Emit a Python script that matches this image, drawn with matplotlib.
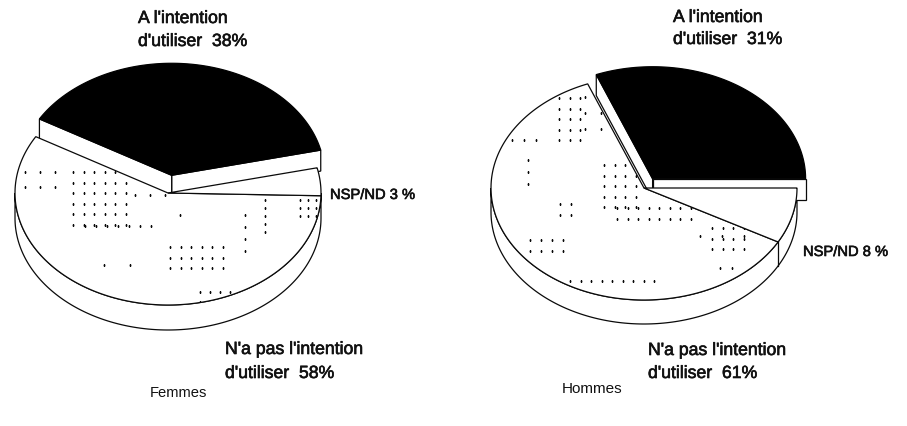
import numpy as np
import matplotlib
matplotlib.use("Agg")
import matplotlib.pyplot as plt
from matplotlib.patches import Polygon
import matplotlib.patheffects as pe

plt.rcParams['font.family'] = ['Liberation Sans', 'DejaVu Sans']

# ---- data
slice_names = ["A l'intention d'utiliser", "N'a pas l'intention d'utiliser", "NSP/ND"]
femmes_values = [38, 58, 3]
hommes_values = [31, 61, 8]
panel_titles = ["Femmes", "Hommes"]

INK = '#0a0a0a'
LW = 0.9

fig = plt.figure(figsize=(9.07, 4.26), dpi=100)
ax = fig.add_axes([0, 0, 1, 1])
ax.set_xlim(0, 907)
ax.set_ylim(426, 0)
ax.axis('off')


def arc(cx, cy, a, b, t0, t1, n=160):
    t = np.radians(np.linspace(t0, t1, n))
    return np.column_stack([cx + a * np.cos(t), cy - b * np.sin(t)])


def stipple(poly, regions):
    xs, ys = [], []
    for x0, x1, y0, y1, step in regions:
        gx, gy = np.meshgrid(np.arange(x0, x1 + .1, step), np.arange(y0, y1 + .1, step))
        xs.extend(gx.ravel())
        ys.extend(gy.ravel())
    line, = ax.plot(xs, ys, ls='none', marker='s', ms=1.3, mew=0, color=INK, zorder=3.5)
    line.set_clip_path(poly)


def pie3d(cx, cy, a, b, depth, values, start, explode, wall, regions):
    total_deg = 3.6
    ang = [start]
    for v in values:
        ang.append(ang[-1] + v * total_deg)
    black0, black1, dot1, _ = ang
    nsp1 = black0 + 360  # the last slice closes the circle (printed shares are rounded)
    # base rim
    rim = np.vstack([arc(cx, cy, a, b, 180, 360), arc(cx, cy + depth, a, b, 360, 180)])
    ax.add_patch(Polygon(rim, closed=True, fc='white', ec=INK, lw=LW, zorder=1))
    bx = cx + a * np.cos(np.radians(dot1))
    by = cy - b * np.sin(np.radians(dot1))
    if np.sin(np.radians(dot1)) < -0.05:
        ax.plot([bx, bx], [by, by + depth], color=INK, lw=LW, zorder=1.5)
    # exploded black slice: offset along mid angle
    mid = np.radians((black0 + black1) / 2)
    ex = cx + explode * a * np.cos(mid)
    ey = cy - explode * b * np.sin(mid)
    top = np.vstack([[ex, ey], arc(ex, ey, a, b, black0, black1)])
    for t in (black0, black1):
        px = ex + a * np.cos(np.radians(t))
        py = ey - b * np.sin(np.radians(t))
        ax.add_patch(Polygon([[ex, ey], [px, py], [px, py + wall], [ex, ey + wall]],
                             closed=True, fc='white', ec=INK, lw=LW, zorder=2))
    # flat slices
    dots = Polygon(np.vstack([[cx, cy], arc(cx, cy, a, b, black1, dot1)]), closed=True,
                   fc='white', ec=INK, lw=LW, zorder=3)
    ax.add_patch(dots)
    nsp = Polygon(np.vstack([[cx, cy], arc(cx, cy, a, b, dot1, nsp1)]), closed=True,
                  fc='white', ec=INK, lw=LW, zorder=3)
    ax.add_patch(nsp)
    ax.add_patch(Polygon(top, closed=True, fc='black', ec='black', lw=LW, zorder=4))
    stipple(dots, regions)


pie3d(168, 193, 153, 112, 25, femmes_values, 13, 0.16, 21,
      [(73, 134, 172, 226, 10.5), (170, 224, 247, 278, 10.5), (25, 60, 172, 200, 15),
       (85, 160, 226, 236, 11), (200, 250, 292, 302, 10), (265, 268, 200, 235, 8),
       (300, 318, 200, 222, 8), (245, 256, 215, 255, 12), (104, 132, 265, 278, 26),
       (135, 165, 195, 205, 15), (180, 186, 215, 218, 9)])
pie3d(644, 188, 153, 112, 24, hommes_values, 0, 0.10, 21,
      [(604, 640, 165, 208, 10.5), (617, 700, 208, 228, 10.5), (559, 581, 98, 140, 10.5),
       (560, 572, 204, 215, 10.5), (530, 571, 240, 252, 11), (712, 752, 228, 250, 10.5),
       (570, 660, 281, 281, 10.5), (512, 540, 140, 146, 12), (528, 530, 160, 184, 12),
       (585, 605, 97, 130, 16), (720, 735, 268, 275, 12), (700, 745, 236, 246, 22)])

halo = [pe.withStroke(linewidth=0.45, foreground='#111111')]
label = dict(fontsize=12.7, color='#111111', va='baseline', ha='left', path_effects=halo)
small = dict(label, fontsize=10.6)
ax.text(138, 23, "A l'intention", **label)
ax.text(138, 46, "d'utiliser  38%", **label)
ax.text(330, 199, "NSP/ND 3 %", **small)
ax.text(225, 354, "N'a pas l'intention", **label)
ax.text(225, 378, "d'utiliser  58%", **label)
ax.text(673, 22, "A l'intention", **label)
ax.text(673, 44, "d'utiliser  31%", **label)
ax.text(803, 256, "NSP/ND 8 %", **small)
ax.text(648, 355, "N'a pas l'intention", **label)
ax.text(648, 378, "d'utiliser  61%", **label)

ax.text(150, 397, panel_titles[0], fontsize=10.6, color='#111111', va='baseline', ha='left')
ax.text(562, 393, panel_titles[1], fontsize=11, color='#111111', va='baseline', ha='left')

fig.savefig('out.png', dpi=100)
